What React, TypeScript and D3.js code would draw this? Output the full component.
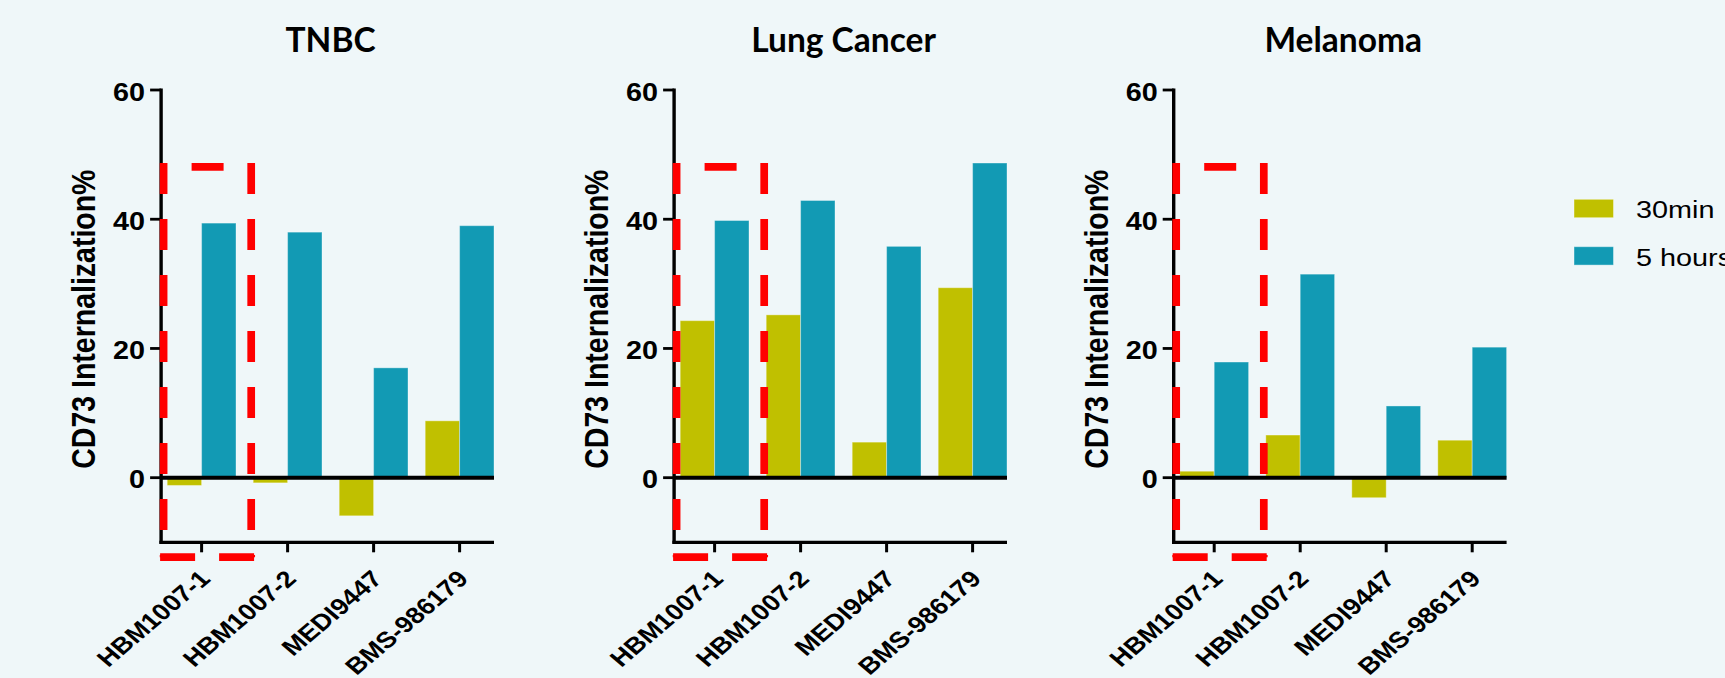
import React from "react";
import * as d3 from "d3";

const W = 1725;
const H = 678;

// ── Data ─────────────────────────────────────────────────────────────────────
const categories = ["HBM1007-1", "HBM1007-2", "MEDI9447", "BMS-986179"];
const seriesNames = ["30min", "5 hours"];
const panelTitles = ["TNBC", "Lung Cancer", "Melanoma"];

const tnbc30min = [-1.2, -0.8, -5.9, 8.8];
const tnbc5hours = [39.4, 38.0, 17.0, 39.0];
const lung30min = [24.3, 25.2, 5.5, 29.4];
const lung5hours = [39.8, 42.9, 35.8, 48.7];
const melanoma30min = [1.0, 6.6, -3.1, 5.8];
const melanoma5hours = [17.9, 31.5, 11.1, 20.2];

const yDomain = [-10, 60];
const yTicks = [0, 20, 40, 60];

// dashed red box drawn around the first category in every panel
const highlightCategory = "HBM1007-1";
const highlightTop = 48.1;
const highlightBottom = -12.3;

// ── Layout / style ───────────────────────────────────────────────────────────
const BG = "#eff7f9";
const COLORS: Record<string, string> = { "30min": "#c0c000", "5 hours": "#129ab4" };
const PANEL_LEFT = [158.6, 671.6, 1171.2];
const STEP = 86;
const Y_TOP = 90;
const Y_BOTTOM = 542.3;
const ARIAL = "'Liberation Sans', Arial, sans-serif";
const TITLE_FONT = "Lato, 'Open Sans', sans-serif";
const RED = "#ff0000";

const y = d3.scaleLinear().domain(yDomain).range([Y_BOTTOM, Y_TOP]);

type PanelProps = { title: string; v30: number[]; v5: number[]; left: number };

function Panel({ title, v30, v5, left }: PanelProps) {
  const x = d3.scaleBand<string>()
    .domain(categories)
    .range([left, left + STEP * categories.length])
    .paddingInner(0.2)
    .paddingOuter(0.1);
  const xs = d3.scaleBand<string>().domain(seriesNames).range([0, x.bandwidth()]);
  const axisX = left + 2.5;
  const lastCat = categories[categories.length - 1];
  const xEnd = (x(lastCat) as number) + x.bandwidth();
  const [xMin, xMax] = x.range();

  const bars = categories.flatMap((c, i) => [
    { c, s: "30min", v: v30[i] },
    { c, s: "5 hours", v: v5[i] },
  ]);

  // highlight box geometry from scales
  const hiIdx = categories.indexOf(highlightCategory);
  const hL = axisX + 2.5;
  const hR = (x(categories[hiIdx + 1]) as number) - 2;
  const hT = y(highlightTop);
  const hB = y(highlightBottom);

  return (
    <g>
      {/* title */}
      <text
        x={(xMin + xMax) / 2}
        y={52}
        textAnchor="middle"
        fontFamily={TITLE_FONT}
        fontWeight={700}
        fontSize={33.5}
        fill="#000"
      >
        {title}
      </text>

      {/* y label */}
      <text
        transform={`translate(${axisX - 66},${(y(60) + y(-10)) / 2 + 3}) scale(1.14,1) rotate(-90)`}
        textAnchor="middle"
        fontFamily={ARIAL}
        fontWeight={700}
        fontSize={28.5}
        fill="#000"
      >
        CD73 Internalization%
      </text>

      {/* bars */}
      {bars.map((b, i) => {
        const bx = (x(b.c) as number) + (xs(b.s) as number);
        const y0 = y(Math.max(0, b.v));
        const y1 = y(Math.min(0, b.v));
        return (
          <rect
            key={i}
            x={bx}
            y={y0}
            width={xs.bandwidth()}
            height={y1 - y0}
            fill={COLORS[b.s]}
            stroke="rgba(255,255,255,0.35)"
            strokeWidth={1}
          />
        );
      })}

      {/* zero line */}
      <line x1={axisX} x2={xEnd} y1={y(0)} y2={y(0)} stroke="#000" strokeWidth={4} />

      {/* y axis */}
      <line x1={axisX} x2={axisX} y1={y(60) - 1.4} y2={y(-10) + 1.5} stroke="#000" strokeWidth={3.4} />
      {yTicks.map((t) => (
        <g key={t}>
          <line x1={axisX - 11} x2={axisX} y1={y(t)} y2={y(t)} stroke="#000" strokeWidth={2.8} />
          <g transform={`translate(${axisX - 16},${y(t) + 10.6})`}>
            <text
              transform="scale(1.15,1)"
              textAnchor="end"
              fontFamily={ARIAL}
              fontWeight={700}
              fontSize={25}
              fill="#000"
            >
              {t}
            </text>
          </g>
        </g>
      ))}

      {/* x axis */}
      <line x1={axisX - 1.7} x2={xEnd} y1={y(-10)} y2={y(-10)} stroke="#000" strokeWidth={3.2} />
      {categories.map((c) => {
        const cx = (x(c) as number) + x.bandwidth() / 2;
        return (
          <g key={c}>
            <line x1={cx} x2={cx} y1={y(-10)} y2={y(-10) + 10} stroke="#000" strokeWidth={3} />
            <text
              transform={`translate(${cx + 10},${y(-10) + 38}) scale(1.18,1) rotate(-45)`}
              textAnchor="end"
              fontFamily={ARIAL}
              fontWeight={700}
              fontSize={23}
              fill="#000"
            >
              {c}
            </text>
          </g>
        );
      })}

      {/* dashed highlight box */}
      <g stroke={RED} strokeWidth={7.7} fill="none">
        <line x1={hL} x2={hL} y1={hT - 3.8} y2={hB} strokeDasharray="31 25" />
        <line x1={hR} x2={hR} y1={hT - 3.8} y2={hB} strokeDasharray="31 25" />
        <line x1={hL} x2={hR} y1={hT} y2={hT} strokeDasharray="32 28" strokeDashoffset={32} />
        <line x1={hL - 3.5} x2={hR + 3.5} y1={hB} y2={hB} strokeDasharray="35 24" />
      </g>
    </g>
  );
}

function Legend() {
  const lx = 1574;
  const rows = seriesNames.map((s, i) => ({ s, top: 199.3 + i * 47.4 }));
  return (
    <g>
      {rows.map((r) => (
        <g key={r.s}>
          <rect x={lx} y={r.top} width={39.5} height={18.4} fill={COLORS[r.s]} stroke="rgba(255,255,255,0.4)" strokeWidth={1} />
          <g transform={`translate(${lx + 62},${r.top + 19})`}>
            <text transform="scale(1.2,1)" fontFamily={ARIAL} fontSize={24} fill="#000">
              {r.s}
            </text>
          </g>
        </g>
      ))}
    </g>
  );
}

export default function App() {
  const panelData = [
    [tnbc30min, tnbc5hours],
    [lung30min, lung5hours],
    [melanoma30min, melanoma5hours],
  ];
  return (
    <svg
      width={W}
      height={H}
      viewBox={`0 0 ${W} ${H}`}
      style={{ position: "absolute", left: 0, top: 0, display: "block", background: BG }}
    >
      <rect width={W} height={H} fill={BG} />
      {panelTitles.map((t, i) => (
        <Panel key={t} title={t} v30={panelData[i][0]} v5={panelData[i][1]} left={PANEL_LEFT[i]} />
      ))}
      <Legend />
    </svg>
  );
}
